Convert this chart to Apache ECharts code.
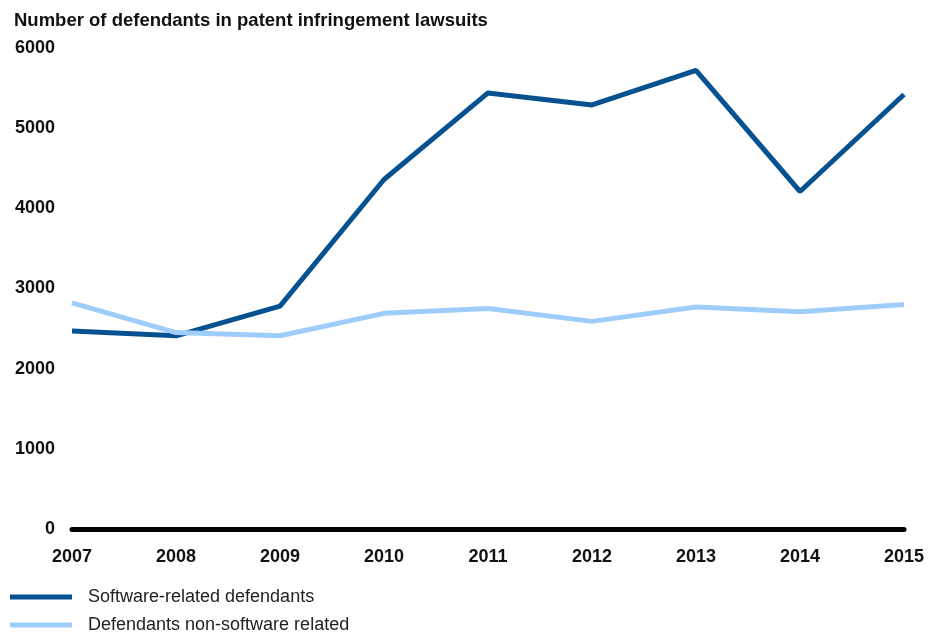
<!DOCTYPE html>
<html>
<head>
<meta charset="utf-8">
<script src="https://cdn.jsdelivr.net/npm/echarts@6/dist/echarts.min.js"></script>
<style>
  body{margin:0;background:#fff;}
  #chart{width:941px;height:635px;}
</style>
</head>
<body>
<div id="chart"></div>
<script>
var years = ['2007','2008','2009','2010','2011','2012','2013','2014','2015'];
var softwareData = [2470, 2410, 2780, 4360, 5440, 5290, 5720, 4210, 5420];
var nonSoftwareData = [2820, 2450, 2410, 2690, 2750, 2590, 2770, 2710, 2800];
var yTicks = [0, 1000, 2000, 3000, 4000, 5000, 6000];

var chart = echarts.init(document.getElementById('chart'));
var option = {
  animation: false,
  title: {
    text: 'Number of defendants in patent infringement lawsuits',
    left: 9,
    top: 6,
    textStyle: {fontFamily: 'Liberation Sans', fontSize: 18.5, fontWeight: 'bold', color: '#111'}
  },
  legend: {
    orient: 'vertical',
    left: 10,
    top: 588,
    height: 50,
    itemWidth: 62,
    itemHeight: 5,
    itemGap: 10,
    icon: 'rect',
    padding: 0,
    textStyle: {fontFamily: 'Liberation Sans', fontSize: 18, color: '#222', padding: [0, 0, 0, 11]},
    data: ['Software-related defendants', 'Defendants non-software related']
  },
  grid: {left: 72, right: 37, top: 48, bottom: 106},
  xAxis: {
    type: 'category',
    boundaryGap: false,
    data: years,
    axisLine: {lineStyle: {color: '#000', width: 5}},
    axisTick: {show: false},
    axisLabel: {margin: 19, fontFamily: 'Liberation Sans', fontSize: 18, fontWeight: 'bold', color: '#111'}
  },
  yAxis: {
    type: 'value',
    min: yTicks[0],
    max: yTicks[yTicks.length - 1],
    interval: 1000,
    splitLine: {show: false},
    axisLine: {show: false},
    axisTick: {show: false},
    axisLabel: {
      margin: 17, fontFamily: 'Liberation Sans', fontSize: 18, fontWeight: 'bold', color: '#111',
      formatter: function (v) { return String(v); }
    }
  },
  series: [
    {
      name: 'Software-related defendants',
      type: 'line',
      data: softwareData,
      symbol: 'none',
      itemStyle: {color: '#06518f'},
      lineStyle: {color: '#06518f', width: 5}
    },
    {
      name: 'Defendants non-software related',
      type: 'line',
      data: nonSoftwareData,
      symbol: 'none',
      itemStyle: {color: '#9fcdfb'},
      lineStyle: {color: '#9fcdfb', width: 5}
    }
  ]
};
chart.setOption(option);
</script>
</body>
</html>
